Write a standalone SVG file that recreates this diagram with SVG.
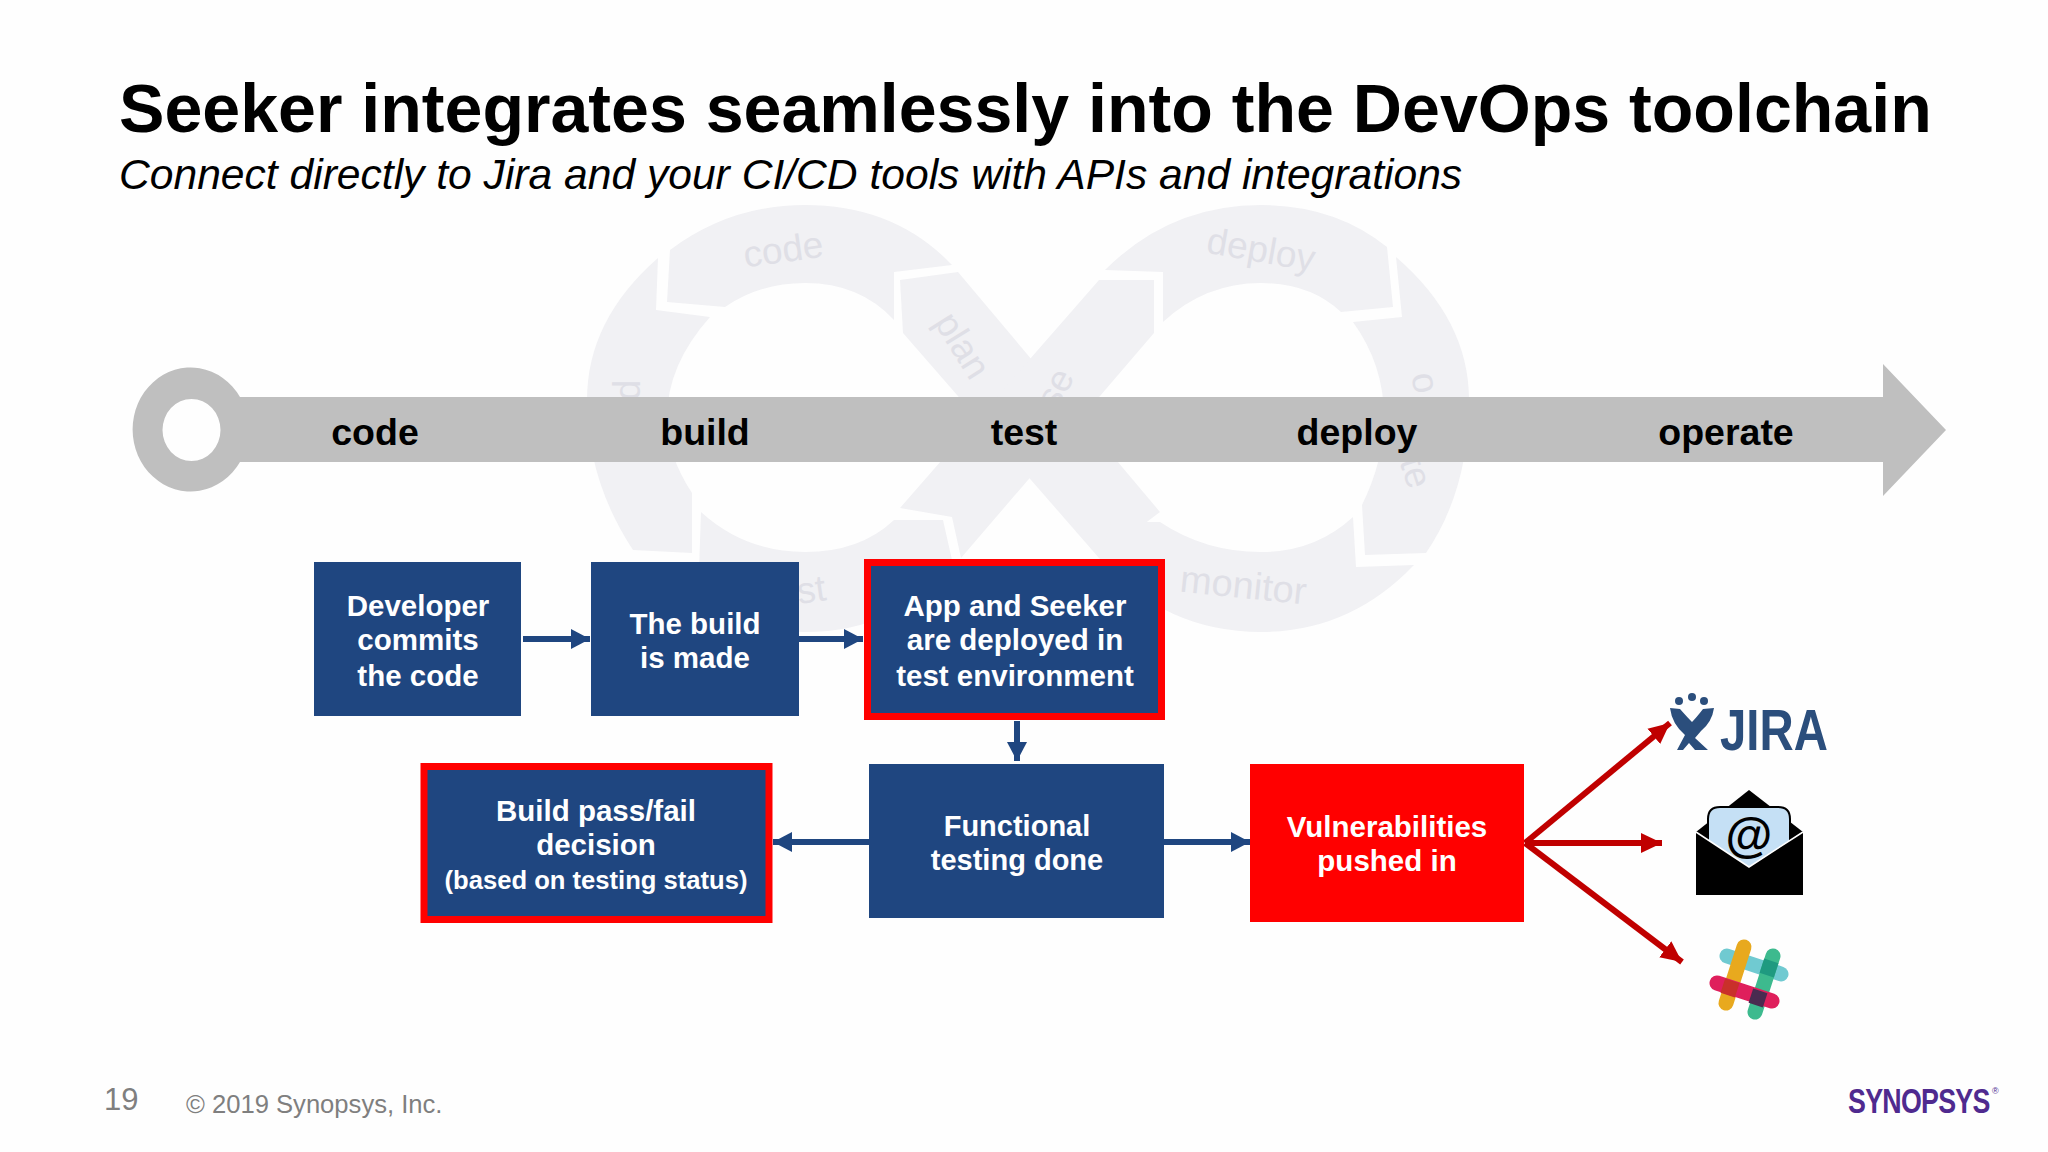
<svg xmlns="http://www.w3.org/2000/svg" width="2048" height="1152" viewBox="0 0 2048 1152">
<style>
text{font-family:"Liberation Sans",Arial,sans-serif}
.seg{fill:#f1f1f4}
.lp{fill:#dfdfe6;font-size:37px;text-anchor:middle}
.st{fill:#bfbfbf;font-size:37.500px;font-weight:700;text-anchor:middle}
.st text{fill:#000}
.box{fill:#1f4680}
.hot{stroke:#f00;stroke-width:7}
.lbl{fill:#fff;font-size:29.500px;font-weight:700;text-anchor:middle}
.c{fill:none;stroke:#1f4680;stroke-width:6}
.r{fill:none;stroke:#c00000;stroke-width:6}
.bar{fill:none;stroke-width:15;stroke-linecap:round}
</style>
<defs>
<marker id="ab" markerUnits="userSpaceOnUse" markerWidth="20" markerHeight="20" refX="19" refY="10" orient="auto"><path d="M0 0L19 10L0 20Z" fill="#1f4680"/></marker>
<marker id="ar" markerUnits="userSpaceOnUse" markerWidth="22" markerHeight="24" refX="21" refY="12" orient="auto"><path d="M0 2L21 12L0 22Z" fill="#c00000"/></marker>
</defs>
<rect width="2048" height="1152" fill="#fefefe"/>
<g id="title">
<text x="119" y="132" font-size="68.100" font-weight="700" fill="#000">Seeker integrates seamlessly into the DevOps toolchain</text>
<text x="119" y="189" font-size="42.600" font-style="italic" fill="#000">Connect directly to Jira and your CI/CD tools with APIs and integrations</text>
</g>
<g id="infinity-backdrop">
<path class="seg" d="M670 250Q730 205 805 205Q895 205 952 265L894 272L894 320Q860 283 805 283Q760 283 725 307L667 302Z"/>
<path class="seg" d="M658 258L656 310L710 317Q667 365 667 418Q667 455 692 493L692 553L633 550Q587 480 587 400Q587 320 658 258Z"/>
<path class="seg" d="M900 280L958 272L1160 512L1099 558L903 333Z"/>
<path class="seg" d="M1099 280L1154 280L1154 333L961 558L952 517L900 508Z"/>
<path class="seg" d="M701 512Q745 552 805 552Q860 552 894 520L943 520L952 560Q900 632 805 632Q745 632 698 600Z"/>
<path class="seg" d="M1105 270Q1170 205 1261 205Q1335 205 1387 247L1393 307L1341 312Q1310 283 1261 283Q1205 283 1163 322L1163 272Z"/>
<path class="seg" d="M1396 257Q1469 320 1469 400Q1469 490 1426 553L1365 555L1362 505Q1384 460 1384 417Q1384 365 1353 322L1402 317Z"/>
<path class="seg" d="M1111 522L1160 522Q1205 552 1261 552Q1315 552 1353 517L1356 567L1414 565Q1350 632 1261 632Q1165 632 1099 558Z"/>
<text class="lp" transform="translate(785 262) rotate(-8)">code</text>
<text class="lp" transform="translate(952 352) rotate(58)">plan</text>
<text class="lp" transform="translate(1066 394) rotate(-62)">se</text>
<text class="lp" transform="translate(1259 262) rotate(10)">deploy</text>
<text class="lp" transform="translate(1413 385) rotate(80)">o</text>
<text class="lp" transform="translate(1404 476) rotate(72)">te</text>
<text class="lp" transform="translate(1242 598) rotate(6)" style="font-size:38px">monitor</text>
<text class="lp" transform="translate(813 602) rotate(-8)">st</text>
<text class="lp" transform="translate(620 390) rotate(90)">p</text>
</g>
<g id="timeline">
<path fill="#bfbfbf" fill-rule="evenodd" d="M240 397H1883V364L1946 430L1883 496V462H240A58 62 0 1 1 240 397ZM162.500 430A29 31 0 0 0 220.500 430A29 31 0 0 0 162.500 430Z"/>
<g class="st">
<text x="375" y="445">code</text>
<text x="705" y="445">build</text>
<text x="1024" y="445">test</text>
<text x="1357" y="445">deploy</text>
<text x="1726" y="445">operate</text>
</g>
</g>
<g id="connectors">
<path class="c" marker-end="url(#ab)" d="M523 639H590"/>
<path class="c" marker-end="url(#ab)" d="M799 639H863"/>
<path class="c" marker-end="url(#ab)" d="M1017 721V761"/>
<path class="c" marker-end="url(#ab)" d="M869 842H773"/>
<path class="c" marker-end="url(#ab)" d="M1164 842H1250"/>
<path class="r" marker-end="url(#ar)" d="M1525 843L1670 723"/>
<path class="r" marker-end="url(#ar)" d="M1525 843H1662"/>
<path class="r" marker-end="url(#ar)" d="M1525 843L1682 962"/>
</g>
<g id="developer">
<rect class="box" x="314" y="562" width="207" height="154"/>
<text class="lbl" x="418" y="616">Developer</text><text class="lbl" x="418" y="650">commits</text><text class="lbl" x="418" y="686">the code</text>
</g>
<g id="build">
<rect class="box" x="591" y="562" width="208" height="154"/>
<text class="lbl" x="695" y="634">The build</text><text class="lbl" x="695" y="668">is made</text>
</g>
<g id="deploy-test">
<rect class="box hot" x="867.500" y="562.500" width="294" height="154"/>
<text class="lbl" x="1015" y="616">App and Seeker</text><text class="lbl" x="1015" y="650">are deployed in</text><text class="lbl" x="1015" y="686">test environment</text>
</g>
<g id="functional">
<rect class="box" x="869" y="764" width="295" height="154"/>
<text class="lbl" x="1017" y="836" style="font-size:29px">Functional</text><text class="lbl" x="1017" y="870" style="font-size:29px">testing done</text>
</g>
<g id="decision">
<rect class="box hot" x="424" y="766.500" width="345" height="153"/>
<text class="lbl" x="596" y="821">Build pass/fail</text><text class="lbl" x="596" y="855">decision</text><text class="lbl" x="596" y="889" style="font-size:25.600px">(based on testing status)</text>
</g>
<g id="vulnerabilities">
<rect x="1250" y="764" width="274" height="158" fill="#f00"/>
<text class="lbl" x="1387" y="837">Vulnerabilities</text><text class="lbl" x="1387" y="871">pushed in</text>
</g>
<g id="jira">
<g fill="#2b4e7c">
<circle cx="1679" cy="701" r="4"/><circle cx="1692" cy="697" r="4"/><circle cx="1704" cy="701" r="4"/>
<path d="M1670 708L1680 709Q1688 718 1692 722Q1696 718 1703 709L1714 708Q1712 722 1701 731L1695 738L1708 750H1695L1689 743L1683 750H1677L1685 735Q1672 724 1670 708Z"/>
</g>
<text transform="translate(1720 750) scale(.817 1)" font-size="58" font-weight="700" fill="#2b4e7c">JIRA</text>
</g>
<g id="email">
<path d="M1696 832L1749 790L1803 832V895H1696Z" fill="#000"/>
<path d="M1708 865V819Q1708 807 1720 807H1778Q1790 807 1790 819V865L1749 867Z" fill="#c5e0f5" stroke="#000" stroke-width="2"/>
<path d="M1696 832L1749 867L1803 832V895H1696Z" fill="#000"/>
<path d="M1696 832L1749 867L1803 832" fill="none" stroke="#fff" stroke-width="1.500"/>
<text x="1749" y="852" font-size="48" font-weight="700" text-anchor="middle" fill="#000">@</text>
</g>
<g id="slack">
<path class="bar" stroke="#70cad1" d="M1727 956L1781 974"/>
<path class="bar" stroke="#e8a91e" d="M1744 947L1726 1003"/>
<path class="bar" stroke="#3dba8e" d="M1773 956L1755 1012"/>
<path class="bar" stroke="#df1f5c" d="M1717 983L1772 1001"/>
<rect x="-7.500" y="-7.500" width="15" height="15" fill="#1f9a80" transform="translate(1769 968) rotate(18)"/>
<rect x="-7.500" y="-7.500" width="15" height="15" fill="#c9302a" transform="translate(1730 988) rotate(18)"/>
<rect x="-7.500" y="-7.500" width="15" height="15" fill="#4a2b50" transform="translate(1758 998) rotate(18)"/>
</g>
<g id="footer">
<text x="104" y="1110" font-size="31" fill="#7f7f7f">19</text>
<text x="186" y="1113" font-size="25.600" fill="#7f7f7f">© 2019 Synopsys, Inc.</text>
<text transform="translate(1848 1113) scale(.745 1)" font-weight="700" fill="#4f2a8f" style="font-size:36px;letter-spacing:-1px">SYNOPSYS</text>
<text x="1992" y="1094" font-size="9" fill="#4f2a8f">®</text>
</g>
</svg>
